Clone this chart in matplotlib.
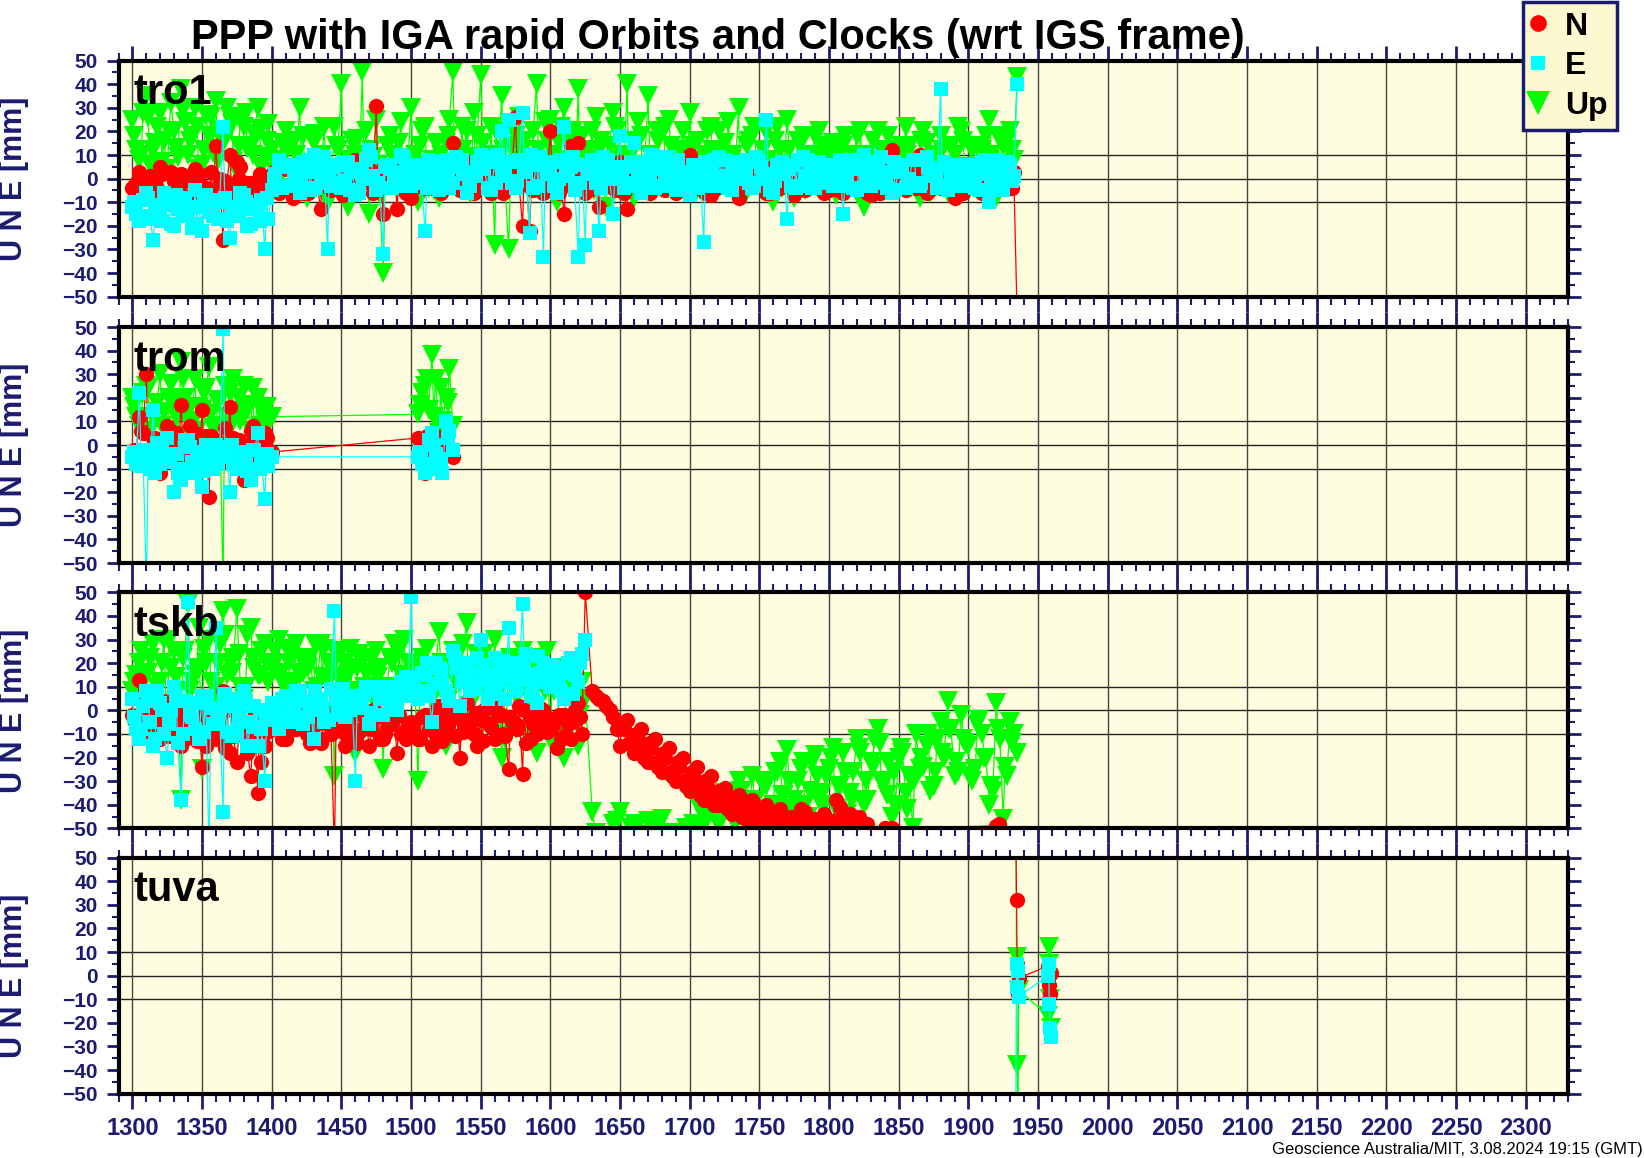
import numpy as np
import matplotlib
matplotlib.use("Agg")
import matplotlib.pyplot as plt
from matplotlib.ticker import MultipleLocator
from matplotlib.lines import Line2D

plt.rcParams['font.family'] = ['Liberation Sans', 'DejaVu Sans']

stations = ["tro1", "trom", "tskb", "tuva"]

# ---------------- tro1 ----------------
tro1_x = np.arange(1300, 1940, 5)
tro1_n = [-4, 3, -7, -2, 5, -6, -1, 2, -8, 4, -3, -9, 14, -26, 10, 7, -5, -2, -8, -3,
          2, -6, 4, -8, 3, -2, 6, -13, 1, -4, 5, -3, 8, -2, 4, 31, -15, 2, -13, -5,
          -8, 3, -4, 6, -2, 4, 15, -5, 3, -6, 8, -3, 5, -4, 2, 26, -20, -22, 4, -6,
          20, -3, -15, 14, 15, -6, 5, -12, 3, -4, 7, -13, 4, -5, 6, 8, -3, 2, -6, 4,
          10, -4, 3, -7, 5, -2, 4, -8, 6, -3, 2, -6, 5, -4, 3, -7, 4, -2, 6, -5,
          -5, 3, -6, 5, -2, 4, -7, 6, -3, 12, 2, -5, 4, 10, -6, 3, -4, 5, -8, 2,
          -3, 5, -6, 4, -2, 6, -4, -60]
tro1_e = [-12, -18, -6, -26, -14, -8, -20, -10, -16, -5, -22, -13, -9, 22, -25, -15, -7, -19, -11, -30,
          -5, 8, -3, 6, -6, 3, 10, -2, -30, 5, -4, 7, -7, 2, 12, -5, -32, 4, -3, 9,
          -3, 6, -22, 4, -5, 8, -2, 5, -6, 3, 10, -4, 7, 20, 25, -4, 28, -23, 6, -33,
          3, -6, 22, 5, -33, -28, 8, -22, 4, -15, 18, -3, 15, -6, 7, -4, 5, 9, -5, 3,
          -7, 4, -27, 6, -3, 8, -5, 5, 2, -4, 7, 25, -6, 4, -17, 6, -3, 8, -4, 5,
          -2, 6, -15, 4, -5, 10, -3, 7, 2, -6, 5, -4, 8, -3, 9, 4, 38, -5, 6, -3,
          5, -4, 7, -10, 3, -5, 6, 40]
tro1_up = [25, 8, 35, 12, 28, 4, 20, 38, 10, 30, 6, 18, 33, 15, 26, 3, 22, 14, 30, 9,
           12, -5, 20, 2, 30, -8, 15, 5, -10, 22, 40, -12, 10, 45, -15, 25, -40, 18, 8, -5,
           30, -10, 22, 8, -8, 15, 45, -2, 20, 28, 44, 10, -28, 35, -30, 18, 12, -5, 40, 8,
           25, -10, 30, 15, 38, -6, 20, 12, -12, 28, 8, 40, -8, 18, 35, 5, -4, 25, 12, 20,
           28, -5, 10, 22, -2, 15, 8, 30, -6, 18, 5, 20, -10, 12, 25, -8, 15, 3, 18, -4,
           10, -7, 14, 2, 18, -12, 8, 20, 0, 12, -5, 22, 6, -8, 15, 4, 18, -6, 10, 20,
           5, -4, 12, 25, -8, 14, 20, 43]
# in-between solutions
tro1_xb = np.arange(1302.5, 1935, 5)
tro1_nb = [-2, -6, 1, -4, -8, 3, -5, -1, -7, 2, -4, -6, 0, -3, -8, 5, -2, -6, 1, -5,
           -2, 5, -4, 3, -6, 6, -1, 4, -5, 2, -3, 7, -2, 5, -6, 3, -1, 6, -4, 2,
           4, -3, 6, -5, 2, -2, 5, -4, 7, -1, 3, -6, 4, -2, 6, -3, 2, -5, 8, -1,
           5, -4, 3, -2, 6, -5, 2, 4, -3, 5, -6, 3, -1, 6, -4, 2, -5, 4, 1, -3,
           5, -3, 2, -5, 4, -1, 6, -4, 3, -2, 5, -6, 2, 4, -3, 1, -5, 6, -2, 3,
           4, -2, 5, -4, 3, -6, 2, 5, -3, 4, -1, 6, -4, 2, -5, 3, -2, 5, -3, 4,
           2, -4, 5, -3, 4, -1, 3]
tro1_eb = [-15, -9, -17, -11, -6, -19, -13, -8, -21, -12, -7, -16, -10, -18, -14, -6, -20, -12, -9, -17,
           2, -4, 5, -2, 7, -5, 3, 9, -3, 6, -1, 4, -6, 8, 1, -4, 6, -2, 10, -3,
           5, -2, 8, 0, 6, -4, 9, 2, -3, 7, 4, -5, 10, 1, -2, 8, 3, -4, 9, 2,
           -3, 8, 1, -5, 6, 3, -2, 9, 0, 5, -4, 7, 2, -3, 10, 4, -1, 6, 1, -4,
           6, 2, -3, 8, 1, -4, 7, 3, -2, 9, 0, -5, 6, 2, -3, 8, 1, -4, 7, 3,
           -3, 8, 2, -4, 7, 1, -2, 9, 3, -5, 6, 0, -3, 8, 2, -4, 7, 1, -2, 6,
           2, -5, 8, 0, -3, 7, 1]
tro1_upb = [12, 28, 6, 22, 16, 32, 9, 24, 18, 4, 27, 11, 20, 30, 7, 25, 13, 19, 5, 23,
            3, 15, -4, 10, 18, 0, 8, 22, -6, 12, 5, 16, -2, 20, 9, -7, 14, 3, 24, 6,
            10, 20, -4, 15, 5, 25, 0, 12, -6, 18, 8, 22, 2, -3, 14, 26, 6, 20, -2, 16,
            10, 22, 2, -4, 18, 8, 26, 0, 14, 20, -3, 10, 24, 4, -6, 16, 22, 2, 8, -2,
            14, 4, 20, -4, 10, 24, 2, -7, 16, 8, 12, -3, 22, 6, 0, 16, -5, 10, 20, 2,
            15, 5, -4, 10, 20, 2, -6, 12, 18, 6, -2, 14, 4, 20, -6, 10, 2, 14, 22, 4,
            12, 0, 18, 6, -2, 16, 8]
tro1_xc = np.arange(1301.25, 1935, 5)
tro1_nc = [-3, -7, 0, -5, 2, -6, -2, -8, 1, -4, -7, 3, -5, -1, -6, 0, -4, -7, 2, -3,
           3, -5, 6, -2, 4, -6, 2, 5, -4, 1, -7, 4, -3, 6, -1, -5, 3, -2, 5, -6,
           -4, 6, -2, 3, -6, 5, -1, 4, -5, 2, 7, -3, 1, -6, 4, -2, 6, -4, 3, -5,
           2, -6, 5, -1, 3, -4, 6, -2, 4, -5, 1, 6, -3, 2, -6, 5, -1, 3, -4, 6,
           -2, 4, -6, 3, -1, 5, -4, 2, 6, -3, 1, -5, 4, -2, 6, -4, 3, -1, 5, -6,
           2, -5, 4, -1, 6, -3, 3, -6, 1, 5, -4, 2, -2, 6, -5, 1, 4, -3, 2, -6,
           4, -2, 6, -5, 1, 3, -4]
tro1_ec = [-10, -16, -8, -14, -18, -11, -7, -15, -12, -19, -9, -14, -17, -8, -12, -16, -10, -13, -18, -8,
           0, 5, -3, 2, -1, 8, -4, 4, 1, -2, 7, -5, 3, 0, 9, -2, 5, -4, 3, 6,
           0, 4, -4, 7, 2, -1, 5, 8, -3, 1, 6, 9, -2, 4, 7, -1, 5, 10, -3, 6,
           7, 0, 4, 9, -2, 6, 2, -4, 8, 3, 0, 5, -2, 7, 1, 9, -3, 4, 8, 0,
           2, -4, 7, 3, 9, -2, 4, 0, 8, -3, 5, 2, -1, 7, 4, -4, 9, 2, 0, 6,
           5, 1, -3, 8, 4, -1, 6, 2, -4, 7, 3, 0, 8, -2, 5, 1, -3, 6, 4, 0,
           -2, 6, 2, -4, 8, 3, -1]
tro1_upc = [18, 10, 26, 15, 7, 20, 13, 29, 16, 22, 12, 26, 8, 17, 23, 14, 28, 10, 21, 16,
            8, 2, 12, 16, 6, -2, 19, 10, 4, 14, -4, 8, 17, 2, 12, 6, -3, 10, 15, 0,
            6, 14, 2, -5, 10, 18, 4, 22, 9, -2, 15, 5, 20, 12, 0, 8, 16, -4, 12, 24,
            4, 15, 8, 20, 0, 12, -5, 16, 6, 22, 10, 2, 16, -2, 10, 20, 6, 14, -4, 12,
            6, 16, -2, 12, 20, 4, 10, -5, 14, 22, 2, 8, 16, -4, 12, 6, 18, 0, 10, 14,
            2, 12, 18, 4, -6, 10, 16, 2, 8, -4, 14, 10, 0, 16, 8, -2, 12, 6, -5, 16,
            4, 14, -4, 10, 18, 2, 12]

# ---------------- trom ----------------
trom_x = np.concatenate([np.arange(1300, 1405, 5), np.arange(1505, 1535, 5)])
trom_n = [-5, 12, 30, 3, -12, 8, -3, 17, -10, 5, 15, -22, 2, -6, 16, -4, -15, 6, -8, 5, -3,
          3, -12, 0, -8, 2, -5]
trom_e = [-5, 22, -60, 15, -8, 3, -20, -15, 2, -12, -18, -6, 0, 49, -20, -10, -3, -15, 5, -23, -5,
          -5, -12, 5, -10, 10, -2]
trom_up = [20, 8, 25, 12, 30, 5, 18, 35, 10, 28, 15, 33, 8, -60, 22, 14, 25, 6, 20, 10, 12,
           13, 25, 38, 5, 20, 8]
trom_xb = np.concatenate([np.arange(1302.5, 1400, 5), np.arange(1507.5, 1530, 5)])
trom_nb = [-4, 5, -8, 0, -3, 6, -6, 2, -2, -9, 4, -5, 1, -7, 3, -4, 0, -6, 2, -4,
           2, -6, 4, -3, -1]
trom_eb = [-8, -2, -10, 1, -6, -4, -12, 2, -7, -3, 0, -10, -5, -1, -8, -4, -11, -2, -6, -9,
           -8, 2, -4, -12, 6]
trom_upb = [12, 22, 6, 18, 14, 26, 4, 20, 9, 16, 24, 7, 19, 12, 28, 10, 17, 5, 15, 9,
            22, 15, 28, 10, 32]
trom_xc = np.concatenate([np.arange(1301.25, 1400, 5), np.arange(1506.25, 1530, 5)])
trom_nc = [-2, 6, -5, 3, -7, 1, 5, -4, 8, -1, -6, 4, -3, 7, -2, 2, -5, 8, -1, 3,
           -2, 4, -6, 1, -3]
trom_ec = [-3, -9, -5, -12, -2, -7, -4, -10, -1, -6, -11, -3, -8, -5, 0, -9, -6, -2, -10, -4,
           -3, -9, 0, -6, 3]
trom_upc = [16, 10, 24, 14, 8, 20, 12, 28, 16, 6, 22, 13, 18, 25, 9, 20, 14, 24, 8, 16,
            17, 28, 12, 24, 18]

# ---------------- tskb ----------------
tskb_x = np.arange(1300, 1630, 5)
tskb_n_x = np.concatenate([tskb_x, np.arange(1630, 1835, 5), [1840, 1845, 1920, 1922]])
tskb_up_x = np.concatenate([tskb_x, np.arange(1630, 1940, 5)])
tskb_n = [-2, 13, -8, 5, -12, 0, -5, -15, 3, -8, -24, -2, -12, 8, -18, -22, -5, -28, -35, -15,
          -8, 2, -12, -5, 0, -10, -3, -14, -6, -60, -5, -10, 2, -8, -15, -3, -12, -6, -18, -9,
          -5, -12, -2, -15, 2, -8, -3, -20, 3, -10, -4, 5, -12, -2, -25, -6, -27, -3, -10, 0,
          -8, -16, -2, -12, 3, 50,
          8, 5, 2, -3, -15, -4, -18, -8, -22, -12, -26, -16, -30, -20, -34, -24, -38, -28, -40, -33,
          -44, -36, -46, -38, -48, -40, -50, -42, -46, -52, -42, -53, -46, -55, -48, -38, -52, -44, -50, -54,
          -58,
          -50, -50, -49, -48]
tskb_e = [5, -12, 8, -15, 3, -20, 10, -38, 46, -8, 6, -60, 35, -43, 2, -10, 8, -5, -15, -30,
          3, -8, 6, -5, 8, -3, -12, 5, -4, 42, -2, 6, -30, 4, -6, 8, -2, 10, 0, 12,
          48, 5, 15, -5, 18, 8, 25, 2, 20, 10, 30, 5, 22, 12, 35, 8, 45, 15, 3, 20,
          10, 18, 5, 22, 12, 30]
tskb_up = [8, 20, 5, 28, 12, -10, 25, -38, 45, 15, -25, 30, 10, 42, 20, 43, 5, 35, 15, 28,
           18, 30, 10, 25, 15, 22, 8, 28, 12, -28, 25, 15, -18, 20, 10, 25, -25, 22, 5, 30,
           10, -30, 18, 5, 33, -15, 25, 12, 37, -10, 20, -5, 30, -20, 15, -8, 25, 5, -18, 22,
           -12, 15, -20, 10, -15, 5,
           -43, -55, -60, -48, -43, -58, -48, -55, -47, -49, -46, -55, -58, -52, -55, -50, -45, -38, -48, -35,
           -45, -30, -42, -28, -47, -32, -40, -22, -17, -38, -25, -45, -19, -35, -25, -42, -18, -35, -12, -40,
           -22, -8, -30, -45, -20, -35, -50, -25, -15, -32, -5, 4, -28, -2, -15, -25, -10, -40, 3, -46,
           -5, -18]
tskb_xb = np.arange(1302.5, 1625, 5)
tskb_n_xb = np.concatenate([tskb_xb, np.arange(1632.5, 1830, 5)])
tskb_up_xb = np.concatenate([tskb_xb, np.arange(1632.5, 1935, 5)])
tskb_nb = [-6, 2, -10, -3, 4, -8, -1, -12, 0, -6, -15, -4, -9, 2, -11, -7, -18, -3, -22, -8,
           -4, -12, 0, -8, -3, -14, -6, 1, -10, -4, -15, -2, -9, -5, 0, -12, -7, -3, -10, -6,
           -10, -3, -8, 0, -13, -5, 2, -9, -4, -15, 0, -7, -2, -11, -5, 2, -14, -6, 1, -9,
           -4, -12, -6, 0, -10,
           6, 4, 0, -8, -8, -14, -12, -20, -16, -24, -20, -28, -24, -32, -28, -36, -32, -40, -36, -42,
           -38, -45, -40, -47, -43, -48, -44, -50, -45, -48, -43, -50, -46, -52, -47, -41, -49, -45, -51, -48]
tskb_eb = [-8, 2, -5, 8, -10, 0, -14, 4, -3, -12, 6, -6, 1, -9, 5, -4, -15, 2, -8, -2,
           -4, 5, -1, 8, -6, 3, 0, -5, 9, 2, -3, 6, 1, 10, -2, 5, 8, 3, 12, 6,
           10, 16, 6, 20, 12, 4, 18, 14, 8, 22, 15, 10, 18, 5, 20, 13, 24, 9, 16, 19,
           14, 8, 20, 15, 24]
tskb_upb = [15, 3, 22, 10, 30, 18, 8, 25, 12, 35, 20, 5, 28, 15, 22, 10, 32, 18, 25, 12,
            25, 12, 20, 28, 16, 22, 10, 26, 18, 14, 20, 8, 24, 16, 5, 18, 10, 28, 15, 20,
            15, 22, 8, 18, -5, 20, 12, 28, 2, 16, 24, 8, 14, -12, 20, 10, 18, 0, 12, 25,
            8, -5, 18, 2, 12,
            -52, -58, -55, -47, -56, -50, -48, -53, -49, -47, -56, -52, -54, -50, -48, -42, -46, -40, -44, -36,
            -48, -34, -42, -38, -30, -44, -26, -36, -42, -30, -40, -22, -38, -28, -16, -32, -44, -26, -18, -38,
            -12, -30, -22, -40, -18, -28, -10, -24, -34, -12, -20, -8, -26, -14, -30, -4, -20, -34, -12, -28,
            -10]
tskb_xc = np.arange(1301.25, 1625, 5)
tskb_n_xc = np.concatenate([tskb_xc, np.arange(1651.25, 1830, 5)])
tskb_up_xc = np.concatenate([tskb_xc, np.arange(1711.25, 1935, 5)])
tskb_nc = [-4, -9, 0, -6, -2, -11, 3, -7, -4, -13, -1, -8, -5, -16, 0, -10, -6, -12, -3, -9,
           -6, -1, -10, -4, 2, -8, -2, -12, -5, 0, -9, -6, -14, -3, -8, -1, -10, -5, -2, -12,
           -6, -12, -2, -9, -5, 0, -11, -4, -8, -1, -13, -6, 3, -10, -3, -8, 0, -12, -5, -2,
           -7, -2, -11, -5, -3,
           -6, -14, -10, -18, -14, -22, -18, -26, -22, -30, -26, -33, -30, -37, -34, -40, -37, -43, -40, -45,
           -42, -47, -44, -49, -46, -50, -47, -52, -48, -44, -50, -47, -53, -49, -45, -52]
tskb_ec = [-3, -8, 4, -12, 0, -6, 6, -10, -2, 3, -9, 1, -5, 7, -11, -1, 4, -7, 0, -4,
           2, -2, 6, 0, 4, -3, 8, 1, -4, 5, 9, 0, 4, 7, -1, 10, 6, 2, 9, 14,
           14, 8, 20, 11, 17, 6, 22, 12, 16, 9, 19, 13, 7, 21, 15, 11, 18, 6, 23, 12,
           19, 12, 16, 7, 20]
tskb_upc = [12, 25, 16, 6, 20, 30, 14, 22, 8, 18, 26, 12, 20, 32, 16, 24, 10, 22, 15, 20,
            20, 16, 26, 12, 22, 18, 28, 14, 20, 24, 12, 26, 18, 10, 22, 14, 6, 20, 25, 12,
            18, 8, 26, 12, 20, 4, 22, 16, -3, 24, 10, 18, -8, 14, 22, 6, 20, -10, 16, 8,
            15, -8, 12, 20, -2,
            -46, -40, -48, -36, -44, -34, -46, -38, -30, -44, -26, -36, -30, -42, -22, -34, -28, -40, -20, -32,
            -26, -38, -16, -30, -24, -14, -36, -26, -16, -42, -30, -20, -10, -26, -18, -8, -22, -12, -28, -6,
            -20, -32, -8, -24, -14]

# ---------------- tuva ----------------
tuva_x = [1934, 1934.5, 1935, 1935.5, 1936, 1957, 1957.5, 1958, 1958.5, 1959]
tuva_n = [65, 32, 5, -8, -1, 4, 0, -4, -8, 1]
tuva_e = [-60, 5, -5, 2, -9, 0, 5, -12, -22, -26]
tuva_up = [70, 8, -38, -70, -6, -17, 12, 5, -10, -22]


def merge(*pairs):
    x = np.concatenate([np.asarray(p[0], float) for p in pairs])
    y = np.concatenate([np.asarray(p[1], float) for p in pairs])
    order = np.argsort(x, kind='stable')
    return x[order], y[order]


panels = [
    (merge((tro1_x, tro1_n), (tro1_xb, tro1_nb), (tro1_xc, tro1_nc)),
     merge((tro1_x, tro1_e), (tro1_xb, tro1_eb), (tro1_xc, tro1_ec)),
     merge((tro1_x, tro1_up), (tro1_xb, tro1_upb), (tro1_xc, tro1_upc))),
    (merge((trom_x, trom_n), (trom_xb, trom_nb), (trom_xc, trom_nc)),
     merge((trom_x, trom_e), (trom_xb, trom_eb), (trom_xc, trom_ec)),
     merge((trom_x, trom_up), (trom_xb, trom_upb), (trom_xc, trom_upc))),
    (merge((tskb_n_x, tskb_n), (tskb_n_xb, tskb_nb), (tskb_n_xc, tskb_nc)),
     merge((tskb_x, tskb_e), (tskb_xb, tskb_eb), (tskb_xc, tskb_ec)),
     merge((tskb_up_x, tskb_up), (tskb_up_xb, tskb_upb), (tskb_up_xc, tskb_upc))),
    (merge((tuva_x, tuva_n)), merge((tuva_x, tuva_e)), merge((tuva_x, tuva_up))),
]

navy = '#1b1b70'
bg = '#fffde0'
red, cyan, green = '#ff0000', '#00ffff', '#00ff00'

fig = plt.figure(figsize=(16.44, 11.58), dpi=100)
bottoms = [0.7438, 0.5138, 0.2847, 0.0556]
left, width, height = 0.0721, 0.8814, 0.2038

for k, (name, d) in enumerate(zip(stations, panels)):
    (nx, n), (ex, e), (ux, up) = d
    ax = fig.add_axes([left, bottoms[k], width, height])
    ax.set_facecolor(bg)
    ax.plot(ux, up, color=green, lw=0.9, marker='v', ms=14, mew=0, zorder=3)
    ax.plot(nx, n, color=red, lw=0.9, marker='o', ms=11, mew=0, zorder=4)
    ax.plot(ex, e, color=cyan, lw=0.9, marker='s', ms=10.5, mew=0, zorder=5)
    ax.set_xlim(1290, 2330)
    ax.set_ylim(-50, 50)
    ax.xaxis.set_major_locator(MultipleLocator(50))
    ax.xaxis.set_minor_locator(MultipleLocator(10))
    ax.yaxis.set_major_locator(MultipleLocator(10))
    ax.yaxis.set_minor_locator(MultipleLocator(5))
    ax.grid(which='major', axis='x', color='#444444', lw=1, zorder=1)
    for h in (-10, 0, 10):
        ax.axhline(h, color='#222222', lw=1, zorder=1)
    for s in ax.spines.values():
        s.set_linewidth(3)
        s.set_color('black')
        s.set_zorder(10)
    ax.tick_params(axis='both', which='both', direction='out', color=navy,
                   labelcolor=navy, top=True, right=True)
    ax.tick_params(axis='x', which='major', length=11, width=2)
    ax.tick_params(axis='x', which='minor', length=6, width=1.5)
    ax.tick_params(axis='y', which='major', length=9, width=2, pad=6)
    ax.tick_params(axis='y', which='minor', length=5, width=1.5)
    ax.tick_params(axis='x', labelbottom=(k == 3), labelsize=17, pad=6)
    ax.tick_params(axis='y', labelsize=15)
    for lab in ax.get_xticklabels() + ax.get_yticklabels():
        lab.set_fontweight('bold')
    ax.text(0.01, 0.815, name, transform=ax.transAxes, fontsize=30,
            fontweight='bold', color='black', va='baseline', ha='left', zorder=12)
    fig.text(0.0085, bottoms[k] + height / 2, 'U N E [mm]', rotation=90,
             fontsize=22, fontweight='bold', color=navy, ha='center', va='center')

fig.text(0.4364, 0.958, 'PPP with IGA rapid Orbits and Clocks (wrt IGS frame)',
         fontsize=30, fontweight='bold', ha='center', va='baseline')

handles = [Line2D([], [], color=red, marker='o', ls='none', ms=12, mew=0),
           Line2D([], [], color=cyan, marker='s', ls='none', ms=10, mew=0),
           Line2D([], [], color=green, marker='v', ls='none', ms=17, mew=0)]
leg = fig.legend(handles, ['N', 'E', 'Up'], loc='upper right',
                 bbox_to_anchor=(1617 / 1644, 1 - 2 / 1158), bbox_transform=fig.transFigure,
                 borderaxespad=0, fancybox=False, framealpha=1,
                 prop={'weight': 'bold', 'size': 23},
                 handlelength=0.3, handletextpad=0.7, labelspacing=0.3, borderpad=0.3)
leg.get_frame().set_facecolor('#fdf8d0')
leg.get_frame().set_edgecolor(navy)
leg.get_frame().set_linewidth(2.5)

fig.text(0.999, 0.001, 'Geoscience Australia/MIT, 3.08.2024 19:15 (GMT)',
         fontsize=12, ha='right', va='bottom', color='black')

fig.savefig('out.png', dpi=100)
